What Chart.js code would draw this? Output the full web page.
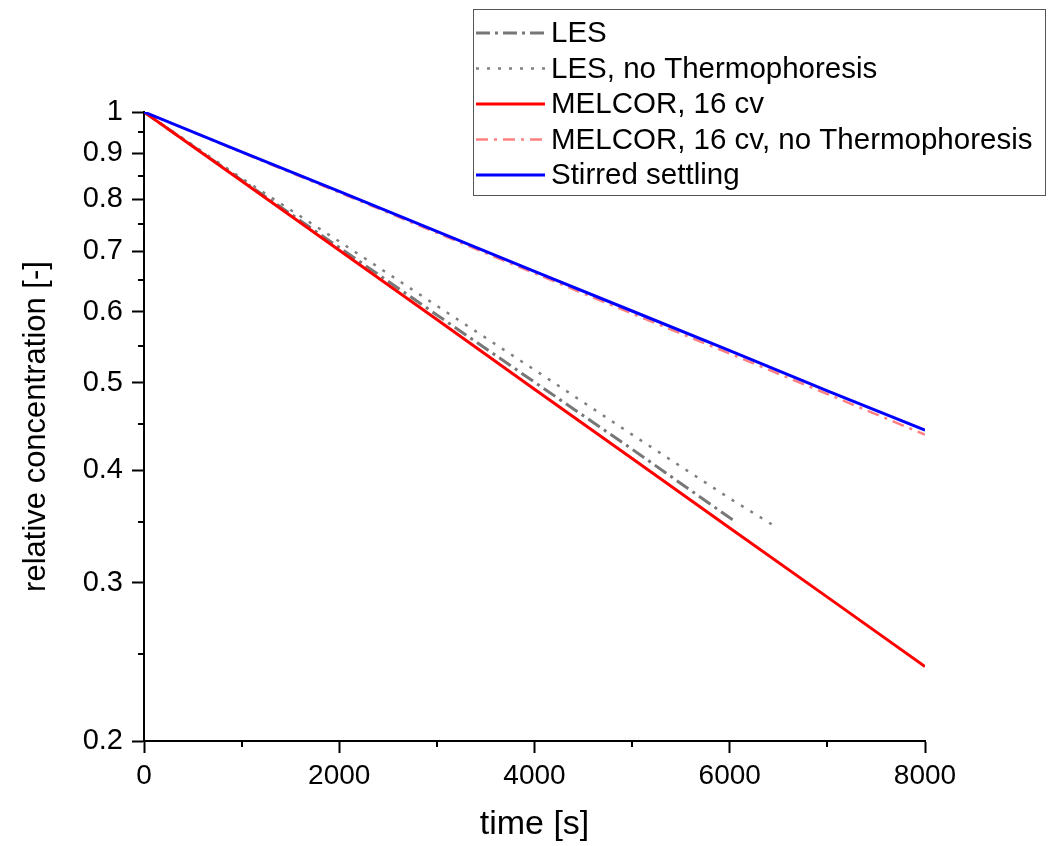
<!DOCTYPE html>
<html lang="en">
<head>
    <meta charset="UTF-8">
    <title>Relative concentration</title>
    <script src="https://cdn.jsdelivr.net/npm/chart.js"></script>
    <style>
        body {
            margin: 0;
            padding: 0;
            background: #fff;
        }
        canvas {
            display: block;
        }
    </style>
</head>
<body>
    <canvas id="conc-chart" width="1057" height="846"></canvas>

    <script>
        // values
        const seriesNames = ['LES', 'LES, no Thermophoresis', 'MELCOR, 16 cv', 'MELCOR, 16 cv, no Thermophoresis', 'Stirred settling'];

        const lesTime = [0, 1000, 2000, 3000, 4000, 5000, 6000, 6070];
        const lesConc = [1, 0.840, 0.707, 0.595, 0.501, 0.422, 0.354, 0.350];

        const lesNoThermoTime = [0, 1000, 2000, 3000, 4000, 5000, 6000, 6490];
        const lesNoThermoConc = [1, 0.844, 0.718, 0.609, 0.517, 0.438, 0.372, 0.345];

        const melcorTime = [0, 1000, 2000, 3000, 4000, 5000, 6000, 7000, 8000];
        const melcorConc = [1, 0.838, 0.702, 0.588, 0.492, 0.412, 0.345, 0.289, 0.242];
        const melcorNoThermoConc = [1, 0.902, 0.814, 0.734, 0.662, 0.597, 0.539, 0.486, 0.438];
        const stirredConc = [1, 0.903, 0.816, 0.737, 0.665, 0.601, 0.543, 0.490, 0.443];

        const yMajorTicks = [0.2, 0.3, 0.4, 0.5, 0.6, 0.7, 0.8, 0.9, 1];
        const yMinorTicks = [0.25, 0.35, 0.45, 0.55, 0.65, 0.75, 0.85, 0.95];
        const xMinorTicks = [1000, 3000, 5000, 7000];

        const FONT = '"Liberation Sans", Arial, sans-serif';

        function pts(xs, ys) {
            return xs.map((x, i) => ({ x: x, y: ys[i] }));
        }

        // minor ticks (shorter than the major ones Chart.js draws)
        const minorTicks = {
            id: 'minorTicks',
            afterDraw(chart) {
                const ctx = chart.ctx;
                const xs = chart.scales.x;
                const ys = chart.scales.y;
                ctx.save();
                ctx.strokeStyle = '#000';
                ctx.lineWidth = 2;
                ctx.beginPath();
                yMinorTicks.forEach(v => {
                    const py = Math.round(ys.getPixelForValue(v));
                    ctx.moveTo(xs.left - 6, py);
                    ctx.lineTo(xs.left, py);
                });
                xMinorTicks.forEach(v => {
                    const px = Math.round(xs.getPixelForValue(v));
                    ctx.moveTo(px, ys.bottom);
                    ctx.lineTo(px, ys.bottom + 6);
                });
                ctx.stroke();
                ctx.restore();
            }
        };

        // boxed legend in the top right, like the original figure
        const boxLegend = {
            id: 'boxLegend',
            afterDraw(chart) {
                const ctx = chart.ctx;
                const left = 473, top = 9, right = 1045, bottom = 195;
                ctx.save();
                ctx.fillStyle = '#fff';
                ctx.fillRect(left, top, right - left, bottom - top);
                ctx.strokeStyle = '#555';
                ctx.lineWidth = 1;
                ctx.strokeRect(left + 0.5, top + 0.5, right - left, bottom - top);
                ctx.font = '29.5px ' + FONT;
                ctx.textBaseline = 'middle';
                chart.data.datasets.forEach((ds, i) => {
                    const y = 33 + i * 35.5;
                    ctx.strokeStyle = ds.borderColor;
                    ctx.lineWidth = ds.borderWidth;
                    ctx.setLineDash(ds.borderDash || []);
                    ctx.beginPath();
                    ctx.moveTo(476, y);
                    ctx.lineTo(545, y);
                    ctx.stroke();
                    ctx.setLineDash([]);
                    ctx.fillStyle = '#000';
                    ctx.fillText(ds.label, 551, y + 1);
                });
                ctx.restore();
            }
        };

        new Chart(document.getElementById('conc-chart'), {
            type: 'line',
            data: {
                datasets: [
                    {
                        label: seriesNames[0],
                        data: pts(lesTime, lesConc),
                        borderColor: '#777777',
                        borderWidth: 3,
                        borderDash: [14, 5, 3, 5],
                        order: 3
                    },
                    {
                        label: seriesNames[1],
                        data: pts(lesNoThermoTime, lesNoThermoConc),
                        borderColor: '#808080',
                        borderWidth: 2.5,
                        borderDash: [3, 8],
                        order: 4
                    },
                    {
                        label: seriesNames[2],
                        data: pts(melcorTime, melcorConc),
                        borderColor: '#ff0000',
                        borderWidth: 3,
                        order: 1
                    },
                    {
                        label: seriesNames[3],
                        data: pts(melcorTime, melcorNoThermoConc),
                        borderColor: '#ff8080',
                        borderWidth: 2.5,
                        borderDash: [12, 6, 3, 6],
                        order: 2
                    },
                    {
                        label: seriesNames[4],
                        data: pts(melcorTime, stirredConc),
                        borderColor: '#0000ff',
                        borderWidth: 3,
                        order: 0
                    }
                ]
            },
            options: {
                responsive: false,
                animation: false,
                elements: {
                    point: { radius: 0 },
                    line: { tension: 0, fill: false }
                },
                layout: {
                    padding: { top: 112, right: 132, left: 0, bottom: 0 }
                },
                plugins: {
                    legend: { display: false },
                    tooltip: { enabled: false }
                },
                scales: {
                    x: {
                        type: 'linear',
                        min: 0,
                        max: 8000,
                        afterFit(scale) { scale.height = 105; },
                        border: { display: true, color: '#000', width: 2 },
                        grid: {
                            display: true,
                            drawOnChartArea: false,
                            drawTicks: true,
                            tickLength: 12,
                            tickColor: '#000',
                            tickWidth: 2
                        },
                        ticks: {
                            stepSize: 2000,
                            color: '#000',
                            padding: 6,
                            maxRotation: 0,
                            font: { family: FONT, size: 28 },
                            callback: (v) => String(v)
                        },
                        title: {
                            display: true,
                            text: 'time [s]',
                            color: '#000',
                            padding: { top: 0, bottom: 1 },
                            font: { family: FONT, size: 34 }
                        }
                    },
                    y: {
                        type: 'logarithmic',
                        min: 0.2,
                        max: 1,
                        afterFit(scale) { scale.width = 144; },
                        afterBuildTicks(scale) {
                            scale.ticks = yMajorTicks.map(v => ({ value: v }));
                        },
                        border: { display: true, color: '#000', width: 2 },
                        grid: {
                            display: true,
                            drawOnChartArea: false,
                            drawTicks: true,
                            tickLength: 12,
                            tickColor: '#000',
                            tickWidth: 2
                        },
                        ticks: {
                            color: '#000',
                            padding: 9,
                            autoSkip: false,
                            font: { family: FONT, size: 29 },
                            callback: (v) => String(Math.round(v * 10) / 10)
                        },
                        title: {
                            display: true,
                            text: 'relative concentration [-]',
                            color: '#000',
                            padding: { top: 18, bottom: 0 },
                            font: { family: FONT, size: 31 }
                        }
                    }
                }
            },
            plugins: [minorTicks, boxLegend]
        });
    </script>
</body>
</html>
